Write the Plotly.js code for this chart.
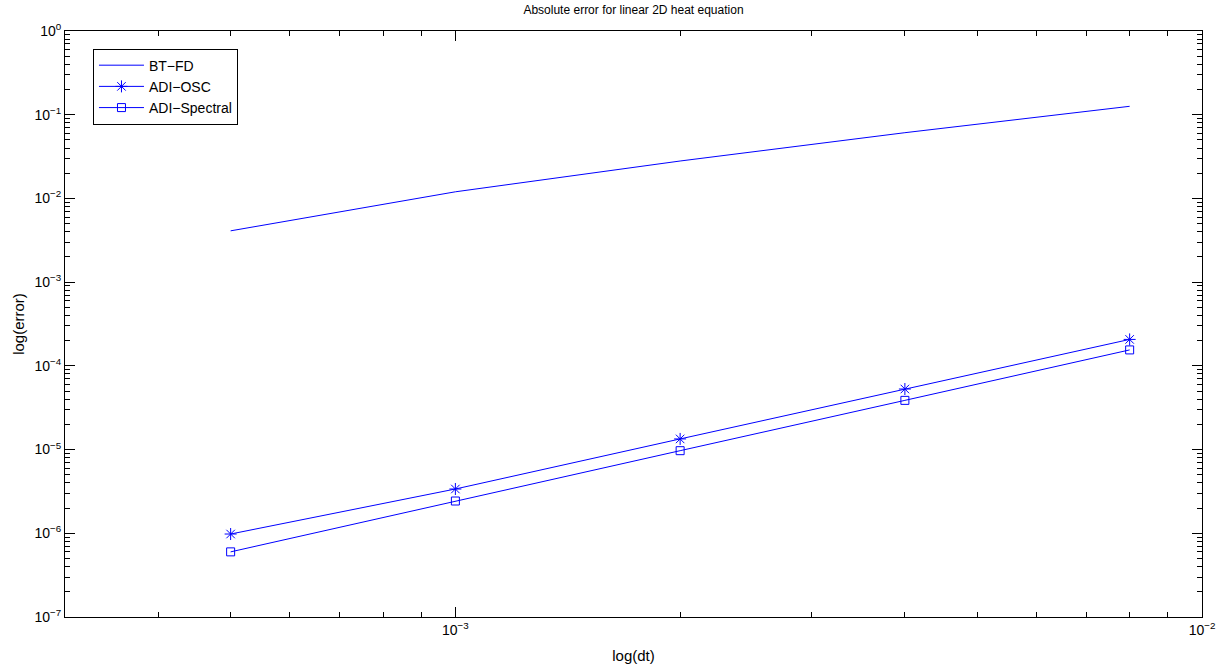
<!DOCTYPE html>
<html>
<head>
<meta charset="utf-8">
<script src="https://cdn.plot.ly/plotly-3.0.1.min.js"></script>
<style>html,body{margin:0;padding:0;background:#fff;}#chart{width:1222px;height:668px;}</style>
</head>
<body>
<div id="chart"></div>
<script>
var dt = [5e-4, 1e-3, 2e-3, 4e-3, 8e-3];
var btfd = [4.1e-3, 1.2e-2, 2.8e-2, 6.1e-2, 1.26e-1];
var adiOsc = [9.8e-7, 3.38e-6, 1.34e-5, 5.29e-5, 2.07e-4];
var adiSpectral = [6.0e-7, 2.43e-6, 9.7e-6, 3.87e-5, 1.55e-4];
var xTickVals = [1e-3, 1e-2];
var xTickText = ['10<sup>\u22123</sup>', '10<sup>\u22122</sup>'];
var yTickVals = [1e-7, 1e-6, 1e-5, 1e-4, 1e-3, 1e-2, 1e-1, 1];
var yTickText = ['10<sup>\u22127</sup>', '10<sup>\u22126</sup>', '10<sup>\u22125</sup>', '10<sup>\u22124</sup>', '10<sup>\u22123</sup>', '10<sup>\u22122</sup>', '10<sup>\u22121</sup>', '10<sup>0</sup>'];

var blue = '#0000ff';
var traces = [
  {x: dt, y: btfd, name: 'BT\u2212FD', mode: 'lines', line: {color: blue, width: 1}},
  {x: dt, y: adiOsc, name: 'ADI\u2212OSC', mode: 'lines+markers', line: {color: blue, width: 1},
   marker: {symbol: 'asterisk-open', size: 10, color: blue, line: {color: blue, width: 1}}},
  {x: dt, y: adiSpectral, name: 'ADI\u2212Spectral', mode: 'lines+markers', line: {color: blue, width: 1},
   marker: {symbol: 'square-open', size: 8, color: blue, line: {color: blue, width: 1}}}
];

var font = 'Liberation Sans, Arial, Helvetica, sans-serif';
var axisCommon = {
  type: 'log', showgrid: false, zeroline: false,
  showline: true, linecolor: '#000', linewidth: 1, mirror: 'allticks',
  ticks: 'inside', ticklen: 10, tickcolor: '#000', tickwidth: 1,
  tickfont: {family: font, size: 14, color: '#000'},
  minor: {ticks: 'inside', ticklen: 5, tickcolor: '#000', tickwidth: 1, dtick: 'D1', showgrid: false}
};

var layout = {
  width: 1222, height: 668,
  paper_bgcolor: '#fff', plot_bgcolor: '#fff',
  margin: {l: 65, r: 20, t: 31, b: 51},
  font: {family: font, color: '#000'},
  title: {text: 'Absolute error for linear 2D heat equation', font: {family: font, size: 12, color: '#000'},
          x: 0.5, xref: 'paper', y: 1, yref: 'container', yanchor: 'top', pad: {t: 6}},
  xaxis: Object.assign({}, axisCommon, {
    range: [Math.log10(3e-4), -2], tickvals: xTickVals, ticktext: xTickText,
    title: {text: 'log(dt)', font: {family: font, size: 15, color: '#000'}, standoff: 13}
  }),
  yaxis: Object.assign({}, axisCommon, {
    range: [-7, 0], tickvals: yTickVals, ticktext: yTickText,
    title: {text: 'log(error)', font: {family: font, size: 15, color: '#000'}, standoff: 6}
  }),
  showlegend: true,
  legend: {x: 0.0246, y: 0.97, xanchor: 'left', yanchor: 'top',
           bordercolor: '#000', borderwidth: 1, bgcolor: '#fff',
           font: {family: font, size: 14, color: '#000'}, itemwidth: 45, tracegroupgap: 0}
};

Plotly.newPlot('chart', traces, layout, {displayModeBar: false, staticPlot: true});
</script>
</body>
</html>
